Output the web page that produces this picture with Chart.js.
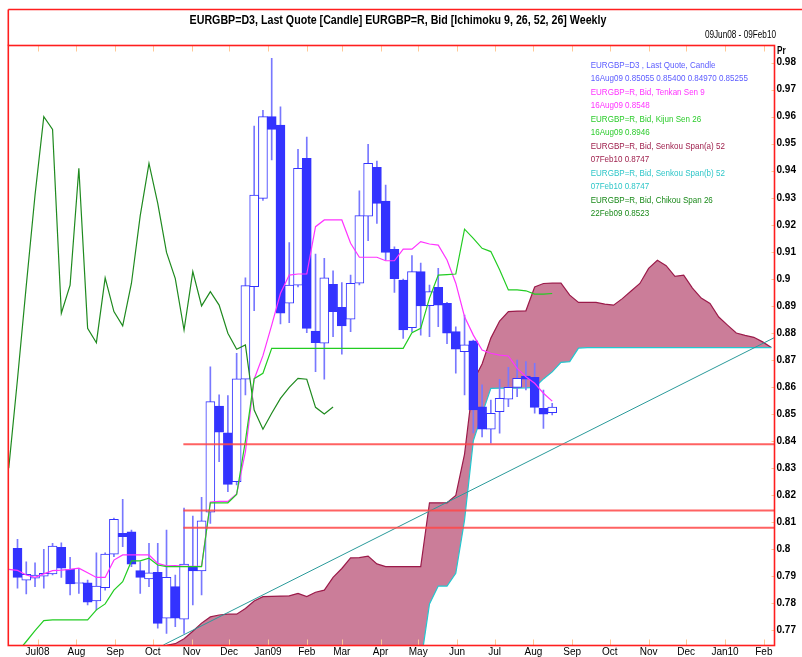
<!DOCTYPE html>
<html><head><meta charset="utf-8">
<script src="https://cdn.jsdelivr.net/npm/chart.js@4.4.1/dist/chart.umd.min.js"></script>
<style>html,body{margin:0;padding:0;background:#fff;overflow:hidden}canvas{display:block}</style>
</head><body>
<canvas id="c" width="802" height="657"></canvas>
<script>
// ---------- DATA (weekly, week index 0 = 08Jun08) ----------
const firstWeekDate = '2008-06-08';
const candleStart = 1;
const open  = [.8004,.7886,.7893,.7901,.7909,.8007,.7926,.7874,.7876,.7809,.7858,.7982,.8059,.8065,.7921,.7890,.7915,.7745,.7862,.7742,.7936,.7920,.8137,.8530,.8431,.8250,.8629,.8971,.9298,.9600,.9569,.8910,.8977,.9446,.8807,.8762,.8980,.8895,.8851,.8984,.9232,.9413,.9288,.9109,.8996,.8820,.9027,.8901,.8969,.8910,.8805,.8731,.8771,.8527,.8444,.8509,.8555,.8599,.8641,.8636,.8521,.85055];
const high  = [.8037,.7954,.7950,.8000,.8022,.8024,.7970,.7930,.7886,.7987,.7987,.8115,.8185,.8071,.7954,.8022,.8022,.8071,.7905,.8152,.8123,.8192,.8675,.8571,.8568,.8725,.9004,.9565,.9623,.9816,.9636,.9134,.9479,.9524,.9092,.9076,.9030,.8986,.9014,.9326,.9498,.9436,.9347,.9119,.8999,.9086,.9058,.8977,.9039,.8913,.8823,.8866,.8774,.8608,.8552,.8629,.8673,.8700,.8694,.8688,.8589,.8540];
const low   = [.7856,.7835,.7862,.7856,.7905,.7896,.7831,.7837,.7794,.7776,.7849,.7973,.8010,.7936,.7837,.7862,.7708,.7689,.7714,.7689,.7794,.7831,.8096,.8324,.8213,.8238,.8571,.8882,.9290,.9440,.8833,.8838,.8970,.8801,.8657,.8629,.8786,.8722,.8805,.8978,.9141,.9205,.9070,.8950,.8780,.8805,.8792,.8786,.8823,.8760,.8651,.8571,.8430,.8416,.8392,.8429,.8527,.8564,.8589,.8503,.8447,.8497];
const close = [.7896,.7907,.7905,.7911,.8012,.7930,.7872,.7877,.7804,.7864,.7982,.8111,.8047,.7945,.7896,.7913,.7726,.7896,.7745,.7945,.7920,.8105,.8546,.8433,.8240,.8630,.8975,.9310,.9600,.9553,.8873,.8977,.9409,.8817,.8764,.9004,.8879,.8826,.8984,.9234,.9427,.9279,.9098,.9001,.8811,.9027,.8900,.8953,.8903,.8799,.8740,.8756,.8515,.8444,.8503,.8558,.8599,.8632,.8629,.8525,.8500,.85255];

const tenkanStart = 0;
const tenkan = [.7926,.7922,.7905,.7896,.7909,.7921,.7923,.7926,.7930,.7913,.7896,.7896,.7960,.7979,.7979,.7979,.7979,.7948,.7939,.7940,.7937,.7937,.7938,.8175,.8177,.8177,.8205,.8360,.8629,.8716,.8829,.8947,.9014,.9018,.9018,.9193,.9218,.9218,.9218,.9132,.9080,.9080,.9080,.9067,.9067,.9110,.9110,.9138,.9129,.9125,.9070,.8984,.8860,.8792,.8737,.8725,.8718,.8715,.8669,.8638,.8614,.8577,.8548];

const kijunStart = 1;
const kijun = [.7620,.7659,.7699,.7736,.7739,.7739,.7739,.7739,.7739,.7776,.7798,.7849,.7880,.7957,.7957,.7967,.7942,.7936,.7936,.7936,.7936,.7936,.8172,.8172,.8172,.8203,.8401,.8631,.8651,.8743,.8743,.8743,.8743,.8743,.8743,.8743,.8743,.8743,.8743,.8743,.8743,.8743,.8743,.8743,.8743,.8801,.8817,.8929,.9014,.9016,.9018,.9184,.9150,.9113,.9101,.9034,.8959,.8959,.8956,.8944,.8944,.8946];

const chikouStart = 0;
const chikou = [.8300,.8630,.8975,.9310,.9600,.9553,.8873,.8977,.9409,.8817,.8764,.9004,.8879,.8826,.8984,.9234,.9427,.9279,.9098,.9001,.8811,.9027,.8900,.8953,.8903,.8799,.8740,.8756,.8515,.8444,.8503,.8558,.8599,.8632,.8629,.8525,.8500,.8526];

const senkouStart = 12;
const senkouA = [.7635,.7644,.7644,.7644,.7644,.7644,.7645,.7651,.7669,.7697,.7727,.7750,.7757,.7760,.7760,.7781,.7809,.7825,.7826,.7827,.7828,.7837,.7825,.7841,.7849,.7896,.7929,.7968,.7969,.7975,.7946,.7936,.7936,.7936,.7936,.7936,.8172,.8172,.8172,.8199,.8352,.8622,.8685,.8781,.8844,.8879,.8881,.8882,.8970,.8983,.8984,.8984,.8940,.8913,.8913,.8913,.8907,.8903,.8927,.8955,.8983,.9039,.9069,.9049,.9009,.9014,.8966,.8929,.8909,.8859,.8829,.8800,.8791,.8784,.8767,.8746];
const senkouB = [.7550,.7550,.7550,.7550,.7550,.7550,.7550,.7550,.7550,.7550,.7550,.7550,.7550,.7550,.7550,.7550,.7550,.7550,.7550,.7550,.7550,.7550,.7550,.7550,.7550,.7550,.7550,.7550,.7550,.7550,.7550,.7550,.7550,.7550,.7550,.7578,.7798,.7864,.7864,.7911,.8108,.8401,.8500,.8595,.8596,.8596,.8596,.8597,.8599,.8630,.8656,.8691,.8694,.8744,.8746,.8746,.8746,.8746,.8746,.8746,.8746,.8746,.8746,.8746,.8746,.8746,.8746,.8746,.8746,.8746,.8746,.8746,.8746,.8746,.8746,.8746];

const trendWeeks  = [17.64, 87.36];
const trendValues = [0.7646, 0.8783];
const hLineValues = [0.8388, 0.8143, 0.8080];
const hLineWeeks  = [19.92, 87.36];

const monthLabels = ['Jul08','Aug','Sep','Oct','Nov','Dec','Jan09','Feb','Mar','Apr','May','Jun','Jul','Aug','Sep','Oct','Nov','Dec','Jan10','Feb'];
const monthStarts = ['2008-07-01','2008-08-01','2008-09-01','2008-10-01','2008-11-01','2008-12-01','2009-01-01','2009-02-01','2009-03-01','2009-04-01','2009-05-01','2009-06-01','2009-07-01','2009-08-01','2009-09-01','2009-10-01','2009-11-01','2009-12-01','2010-01-01','2010-02-01'];
const yTicks = [0.77,0.78,0.79,0.80,0.81,0.82,0.83,0.84,0.85,0.86,0.87,0.88,0.89,0.90,0.91,0.92,0.93,0.94,0.95,0.96,0.97,0.98];

const titleText = 'EURGBP=D3, Last Quote [Candle] EURGBP=R, Bid [Ichimoku 9, 26, 52, 26] Weekly';
const rangeText = '09Jun08 - 09Feb10';
const legendItems = [
  ['EURGBP=D3 , Last Quote, Candle', '16Aug09 0.85055 0.85400 0.84970 0.85255', '#5c5cff'],
  ['EURGBP=R, Bid, Tenkan Sen 9', '16Aug09 0.8548', '#ff33ff'],
  ['EURGBP=R, Bid, Kijun Sen 26', '16Aug09 0.8946', '#2ccc2c'],
  ['EURGBP=R, Bid, Senkou Span(a) 52', '07Feb10 0.8747', '#9e1f4c'],
  ['EURGBP=R, Bid, Senkou Span(b) 52', '07Feb10 0.8747', '#2ec6c8'],
  ['EURGBP=R, Bid, Chikou Span 26', '22Feb09 0.8523', '#1b8a1b']
];

// ---------- fonts ----------
const mctx = document.createElement('canvas').getContext('2d');
mctx.font = '20px "Liberation Sans Narrow", "Liberation Sans"';
const wN = mctx.measureText('EURGBP=R, Bid 0.8548').width;
mctx.font = '20px "Liberation Sans"';
const wR = mctx.measureText('EURGBP=R, Bid 0.8548').width;
const NARROW = wN < wR * 0.95;
const FAM = NARROW ? '"Liberation Sans Narrow", "Liberation Sans", Arial, sans-serif' : '"Liberation Sans", Arial, sans-serif';
const SQ = NARROW ? 1 : 0.82;
Chart.defaults.font.family = FAM;

// ---------- helpers ----------
const W0 = Date.parse(firstWeekDate + 'T00:00:00Z');
const monthPos = monthStarts.map(s => (Date.parse(s + 'T00:00:00Z') - W0) / (7 * 86400000));
const series = (start, arr) => arr.map((v, i) => ({x: start + i, y: v}));
const BLUE = '#3333ff';
const WICK = '#7878ff';
const CLOUD = '#cb7d99';

const bodies = open.map((o, i) => ({x: candleStart + i, y: [o, close[i]]}));
const bodyFill = open.map((o, i) => close[i] >= o ? '#ffffff' : BLUE);
const wicks = high.map((h, i) => ({x: candleStart + i, y: [low[i], h]}));

const datasets = [
  {type:'line', label:'Senkou A', data: series(senkouStart, senkouA), borderColor:'#9b1b4a', borderWidth:1.2, pointRadius:0, tension:0,
   fill:{target:'+1', above: CLOUD, below: CLOUD}, backgroundColor: CLOUD, order:10},
  {type:'line', label:'Senkou B', data: series(senkouStart, senkouB), borderColor:'#22c8d0', borderWidth:1.2, pointRadius:0, tension:0, fill:false, order:9},
  {type:'line', label:'Trend', data: trendWeeks.map((w, i) => ({x: w, y: trendValues[i]})), borderColor:'#2a9a9a', borderWidth:1, pointRadius:0, fill:false, order:8},
  {type:'bar', label:'Wicks', data: wicks, backgroundColor: WICK, borderWidth:0, barThickness:1, grouped:false, order:7},
  {type:'bar', label:'Bodies', data: bodies, backgroundColor: bodyFill, borderColor: BLUE, borderWidth:1, borderSkipped:false, barThickness:9, grouped:false, order:6},
  {type:'line', label:'Chikou', data: series(chikouStart, chikou), borderColor:'#1f8a1f', borderWidth:1.2, pointRadius:0, tension:0, fill:false, order:4},
  {type:'line', label:'Tenkan', data: series(tenkanStart, tenkan), borderColor:'#ff33ff', borderWidth:1.2, pointRadius:0, tension:0, fill:false, order:3},
  {type:'line', label:'Kijun', data: series(kijunStart, kijun), borderColor:'#22cc22', borderWidth:1.2, pointRadius:0, tension:0, fill:false, order:2},
  ...hLineValues.map(v => ({type:'line', label:'H', data: hLineWeeks.map(w => ({x: w, y: v})), borderColor:'rgba(255,70,70,0.85)', borderWidth:2, pointRadius:0, fill:false, order:1}))
];

const decor = {
  id: 'decor',
  beforeDraw(chart) {
    const c = chart.ctx; c.save(); c.fillStyle = '#fff'; c.fillRect(0, 0, chart.width, chart.height); c.restore();
  },
  afterDraw(chart) {
    const c = chart.ctx, a = chart.chartArea, xs = chart.scales.x, ys = chart.scales.y;
    const ln = (x1, y1, x2, y2) => { c.beginPath(); c.moveTo(x1, y1); c.lineTo(x2, y2); c.stroke(); };
    c.save();
    c.strokeStyle = '#ffc896'; c.lineWidth = 1;
    monthPos.forEach(p => {
      const x = Math.round(xs.getPixelForValue(p)) + 0.5;
      ln(x, a.top, x, a.top + 6); ln(x, a.bottom - 6, x, a.bottom);
    });
    yTicks.forEach(v => { const y = Math.round(ys.getPixelForValue(v)) + 0.5; ln(a.right - 3, y, a.right, y); });
    c.strokeStyle = '#ff1e1e'; c.lineWidth = 1.6;
    c.strokeRect(a.left, a.top, a.right - a.left, a.bottom - a.top);
    ln(a.left, 9.5, 802, 9.5); ln(a.left, 9.5, a.left, a.top);
    const txt = (s, x, y, font, color, align) => {
      c.save(); c.font = font; c.fillStyle = color; c.textBaseline = 'middle';
      c.translate(x, y); c.scale(SQ, 1); c.textAlign = align || 'left'; c.fillText(s, 0, 0); c.restore();
    };
    txt(titleText, 398, 20, 'bold 13px ' + FAM, '#000', 'center');
    txt(rangeText, 776, 35, '10px ' + FAM, '#000', 'right');
    txt('Pr', 777, 51, 'bold 10px ' + FAM, '#000', 'left');
    legendItems.forEach((it, g) => {
      const y = 65.7 + g * 26.9;
      txt(it[0], 590.7, y, '9.8px ' + FAM, it[2]);
      txt(it[1], 590.7, y + 12.6, '9.8px ' + FAM, it[2]);
    });
    c.restore();
  }
};

new Chart(document.getElementById('c'), {
  type: 'bar',
  data: { datasets },
  options: {
    responsive: false, animation: false, devicePixelRatio: 1,
    layout: { padding: { left: 8.3, top: 45.5, right: 0, bottom: 0 } },
    plugins: { legend: { display: false }, tooltip: { enabled: false }, title: { display: false } },
    scales: {
      x: {
        type: 'linear', min: -0.05, max: 87.36, offset: false,
        grid: { display: false, drawTicks: false }, border: { display: false },
        afterBuildTicks: s => { s.ticks = monthPos.map(v => ({ value: v })); },
        afterFit: s => { s.height = 11.5; },
        ticks: { autoSkip: false, maxRotation: 0, minRotation: 0, padding: 1, color: '#000', font: { size: 10 },
                 callback: (v, i) => monthLabels[i] }
      },
      y: {
        type: 'linear', position: 'right', min: 0.76442, max: 0.98631,
        grid: { display: false, drawTicks: false }, border: { display: false },
        afterBuildTicks: s => { s.ticks = yTicks.map(v => ({ value: v })); },
        afterFit: s => { s.width = 27.5; },
        ticks: { padding: 2, color: '#000', font: { size: 10, weight: 'bold' }, callback: v => String(+v.toFixed(2)) }
      }
    }
  },
  plugins: [decor]
});
</script>
</body></html>
